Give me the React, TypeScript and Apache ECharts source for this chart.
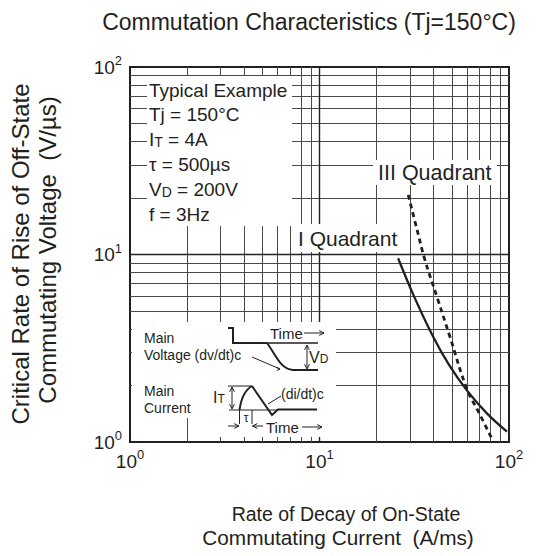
import React, { useEffect, useRef } from "react";
import * as echarts from "echarts";

// ---- data ----
const axisMin = 1;
const axisMax = 100;
const gridValues = [2, 3, 4, 5, 6, 7, 8, 9, 20, 30, 40, 50, 60, 70, 80, 90];
const majorGridValues = [10];

const quadrantIX = [26, 31.5, 39.8, 48, 59.8, 76, 97.6];
const quadrantIY = [9.55, 6.0, 3.64, 2.6, 1.89, 1.43, 1.135];

const quadrantIIIX = [29.4, 33, 36, 42, 48.8, 59.8, 70, 82];
const quadrantIIIY = [20.8, 13.1, 9.35, 5.8, 3.64, 1.93, 1.41, 1.02];

const legendLines = [
  "Typical Example",
  "Tj = 150°C",
  "I{sub|T} = 4A",
  "τ = 500µs",
  "V{sub|D} = 200V",
  "f = 3Hz",
];

const FONT = '"Liberation Sans", Arial, Helvetica, sans-serif';
const INK = "#231f20";
const GRID = "#4a4a4a";

function txt(x: number, y: number, text: string, size: number, align = "left", extra: any = {}) {
  return {
    type: "text",
    x,
    y,
    z: 102,
    ...extra,
    style: {
      text,
      fill: INK,
      font: `${size}px ${FONT}`,
      textAlign: align,
      textVerticalAlign: "middle",
      rich: {
        sub: { fontSize: Math.round(size * 0.72), fontFamily: FONT, fill: INK, lineHeight: Math.round(size * 0.72), verticalAlign: "bottom" },
      },
    },
  };
}

function whiteBox(x: number, y: number, w: number, h: number) {
  return { type: "rect", z: 100, shape: { x, y, width: w, height: h }, style: { fill: "#ffffff" } };
}

function pl(points: number[][], w = 2) {
  return { type: "polyline", z: 101, shape: { points }, style: { stroke: INK, lineWidth: w, fill: null } };
}

function head(x: number, y: number, dir: string, s = 4) {
  let pts: number[][] = [];
  if (dir === "right") pts = [[x - s * 1.6, y - s * 0.8], [x, y], [x - s * 1.6, y + s * 0.8]];
  if (dir === "left") pts = [[x + s * 1.6, y - s * 0.8], [x, y], [x + s * 1.6, y + s * 0.8]];
  if (dir === "up") pts = [[x - s * 0.8, y + s * 1.6], [x, y], [x + s * 0.8, y + s * 1.6]];
  if (dir === "down") pts = [[x - s * 0.8, y - s * 1.6], [x, y], [x + s * 0.8, y - s * 1.6]];
  return pl(pts, 1);
}

function bez(x1: number, y1: number, c1x: number, c1y: number, c2x: number, c2y: number, x2: number, y2: number, w = 2) {
  return {
    type: "bezierCurve",
    z: 101,
    shape: { x1, y1, x2, y2, cpx1: c1x, cpy1: c1y, cpx2: c2x, cpy2: c2y },
    style: { stroke: INK, lineWidth: w, fill: null },
  };
}

function buildGraphics() {
  const g: any[] = [];
  // title & axis names
  g.push(txt(309, 22, "Commutation Characteristics (Tj=150°C)", 23, "center"));
  g.push(txt(20, 254, "Critical Rate of Rise of Off-State", 24, "center", { rotation: Math.PI / 2 }));
  g.push(txt(47, 250, "Commutating Voltage  (V/µs)", 24, "center", { rotation: Math.PI / 2 }));
  g.push(txt(346, 514, "Rate of Decay of On-State", 19.5, "center"));
  g.push(txt(338, 537, "Commutating Current  (A/ms)", 20.8, "center"));

  // white boxes hiding the grid
  g.push(whiteBox(147, 76, 145, 150));
  g.push(whiteBox(373, 160, 124, 25));
  g.push(whiteBox(296, 224, 105, 28));
  g.push(whiteBox(132, 322, 204, 96));
  g.push(whiteBox(212, 418, 124, 19));

  // legend block
  legendLines.forEach((t, i) => g.push(txt(149, 90 + i * 24.8, t, 19, "left")));

  // quadrant labels
  g.push(txt(378, 173, "III Quadrant", 21.5, "left"));
  g.push(txt(298, 238, "I Quadrant", 21, "left"));

  // inset: voltage
  g.push(txt(144, 338, "Main", 14, "left"));
  g.push(txt(144, 355, "Voltage (dv/dt)c", 14, "left"));
  g.push(pl([[228, 328], [233, 328], [233, 343], [267, 343]]));
  g.push(pl([[267, 343], [318, 343]], 1.3));
  g.push(bez(267, 343, 276, 355, 280, 369, 293, 370));
  g.push(pl([[292, 370], [318, 370]]));
  g.push(pl([[307, 346], [307, 368]], 1));
  g.push(head(307, 345, "up", 3));
  g.push(head(307, 369, "down", 3));
  g.push(txt(309, 357, "V{sub|D}", 16, "left"));
  g.push(txt(270, 333, "Time", 15, "left"));
  g.push(pl([[304, 333], [324, 333]], 1));
  g.push(head(324, 333, "right", 3));
  g.push(pl([[252, 357], [280, 369]], 1));
  g.push(head(280, 369, "right", 2));

  // inset: current
  g.push(txt(144, 391, "Main", 14, "left"));
  g.push(txt(144, 408, "Current", 14, "left"));
  g.push(pl([[228, 386], [252, 386]], 1));
  g.push(pl([[229, 410], [278, 410]], 1));
  g.push(pl([[232, 388], [232, 408]], 1));
  g.push(head(232, 387, "up", 3));
  g.push(head(232, 409, "down", 3));
  g.push(txt(213, 397, "I{sub|T}", 16, "left"));
  g.push(bez(239.5, 410, 241, 399, 245, 390, 252, 386));
  g.push(pl([[252, 386], [272, 415], [278, 409.5], [317, 409.5]]));
  g.push(txt(281, 394, "(di/dt)c", 14, "left"));
  g.push(pl([[281, 396], [268, 404]], 1));
  g.push(pl([[239.5, 410], [239.5, 424]], 1));
  g.push(pl([[252, 410], [252, 424]], 1));
  g.push(txt(246, 418, "τ", 12, "center"));
  g.push(pl([[228, 426], [239, 426]], 1));
  g.push(head(239, 426, "right", 3));
  g.push(pl([[263, 426], [252.5, 426]], 1));
  g.push(head(252.5, 426, "left", 3));
  g.push(txt(266, 427, "Time", 15, "left"));
  g.push(pl([[302, 427], [322, 427]], 1));
  g.push(head(322, 427, "right", 3));
  return g;
}

const tickRich = {
  b: { fontSize: 19, lineHeight: 26, fontFamily: FONT, color: INK },
  s: { fontSize: 13, lineHeight: 13, fontFamily: FONT, color: INK, verticalAlign: "top" },
};
const tickFormatter = (v: number) => `{b|10}{s|${Math.round(Math.log10(v))}}`;

export default function App() {
  const ref = useRef<HTMLDivElement>(null);
  useEffect(() => {
    if (!ref.current) return;
    const chart = echarts.init(ref.current, undefined, { renderer: "svg" });
    const gridMarks = [
      ...gridValues.map((v) => ({ xAxis: v })),
      ...gridValues.map((v) => ({ yAxis: v })),
    ];
    const majorMarks = [
      ...majorGridValues.map((v) => ({ xAxis: v })),
      ...majorGridValues.map((v) => ({ yAxis: v })),
    ];
    chart.setOption({
      animation: false,
      backgroundColor: "#ffffff",
      textStyle: { fontFamily: FONT },
      grid: {
        left: 130,
        top: 67,
        width: 379,
        height: 375,
        show: true,
        borderColor: INK,
        borderWidth: 2,
        backgroundColor: "transparent",
      },
      xAxis: {
        type: "log",
        logBase: 10,
        min: axisMin,
        max: axisMax,
        axisLine: { show: false },
        axisTick: { show: false },
        splitLine: { show: false },
        axisLabel: { margin: 6, formatter: tickFormatter, rich: tickRich, color: INK },
      },
      yAxis: {
        type: "log",
        logBase: 10,
        min: axisMin,
        max: axisMax,
        axisLine: { show: false },
        axisTick: { show: false },
        splitLine: { show: false },
        axisLabel: { margin: 8, formatter: tickFormatter, rich: tickRich, color: INK },
      },
      series: [
        {
          type: "line",
          data: [],
          silent: true,
          markLine: {
            silent: true,
            symbol: ["none", "none"],
            label: { show: false },
            lineStyle: { color: GRID, width: 1, type: "solid" },
            data: gridMarks,
          },
        },
        {
          type: "line",
          data: [],
          silent: true,
          markLine: {
            silent: true,
            symbol: ["none", "none"],
            label: { show: false },
            lineStyle: { color: "#222", width: 1.4, type: "solid" },
            data: majorMarks,
          },
        },
        {
          name: "I Quadrant",
          type: "line",
          smooth: 0.4,
          showSymbol: false,
          lineStyle: { color: INK, width: 2.3 },
          data: quadrantIX.map((x, i) => [x, quadrantIY[i]]),
          z: 5,
        },
        {
          name: "III Quadrant",
          type: "line",
          smooth: 0.4,
          showSymbol: false,
          lineStyle: { color: INK, width: 2.8, type: [5, 4] },
          data: quadrantIIIX.map((x, i) => [x, quadrantIIIY[i]]),
          z: 5,
        },
      ],
      graphic: { elements: buildGraphics() },
    });
    return () => chart.dispose();
  }, []);
  return (
    <div
      ref={ref}
      style={{ position: "absolute", left: 0, top: 0, width: 538, height: 556, background: "#fff" }}
    />
  );
}
